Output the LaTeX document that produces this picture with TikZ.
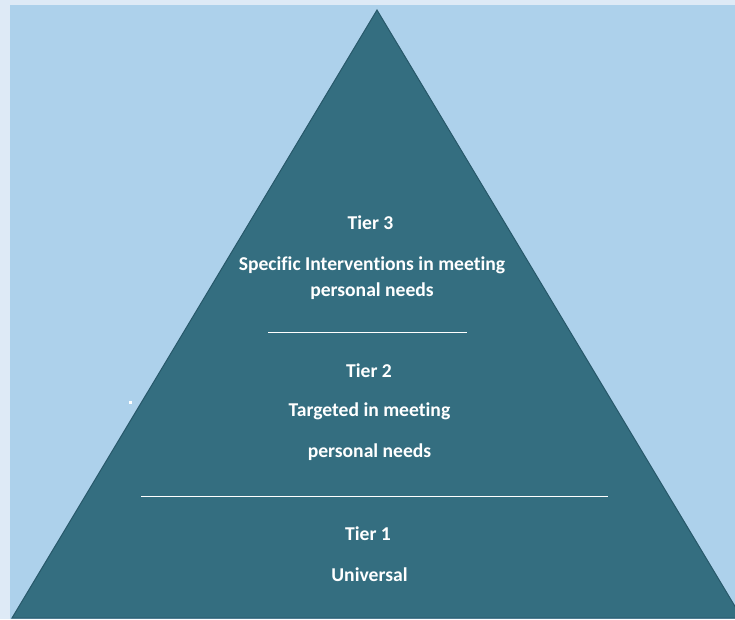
\documentclass[tikz,border=0pt]{standalone}
\usepackage{fontspec}
\setmainfont[Ligatures=CommonOff]{Carlito}
\definecolor{pagebg}{HTML}{DEEAF6}
\definecolor{skyfill}{HTML}{ADD1EB}
\definecolor{tealfill}{HTML}{346E80}
\definecolor{tealedge}{HTML}{27586A}
\begin{document}
\begin{tikzpicture}[x=1pt,y=-1pt,
  tiertext/.style={text=white,font=\fontsize{19.6}{23}\selectfont\bfseries,inner sep=0pt,anchor=center},
  divider/.style={draw=white,line width=0.9pt}]
  \useasboundingbox (0,0) rectangle (735,619);
  % page and sky panel
  \fill[pagebg] (0,0) rectangle (735,619);
  \fill[skyfill] (10,5) rectangle (735,619);
  % pyramid
  \begin{scope}
    \clip (0,0) rectangle (735,619);
    \filldraw[fill=tealfill,draw=tealedge,line width=1pt,line join=miter]
      (377,10) -- (12,618) -- (742,618) -- cycle;
  \end{scope}
  % small white mark on the left
  \fill[white] (128.5,400.5) rectangle (131.5,403.5);
  % tier dividers
  \coordinate (d1a) at (268,332);
  \coordinate (d1b) at (467,332);
  \coordinate (d2a) at (141,496);
  \coordinate (d2b) at (608,496);
  \draw[divider] (d1a) -- (d1b);
  \draw[divider] (d2a) -- (d2b);
  % tier labels
  \node[tiertext] (t3) at (370.5,223) {Tier 3};
  \node[tiertext] (t3a) at (372,265) {Specific Interventions in meeting};
  \node[tiertext] (t3b) at (372,291) {personal needs};
  \node[tiertext] (t2) at (369,371) {Tier 2};
  \node[tiertext] (t2a) at (369.5,411) {Targeted in meeting};
  \node[tiertext] (t2b) at (369.5,452) {personal needs};
  \node[tiertext] (t1) at (368,534) {Tier 1};
  \node[tiertext] (t1a) at (369.5,575) {Universal};
\end{tikzpicture}
\end{document}
